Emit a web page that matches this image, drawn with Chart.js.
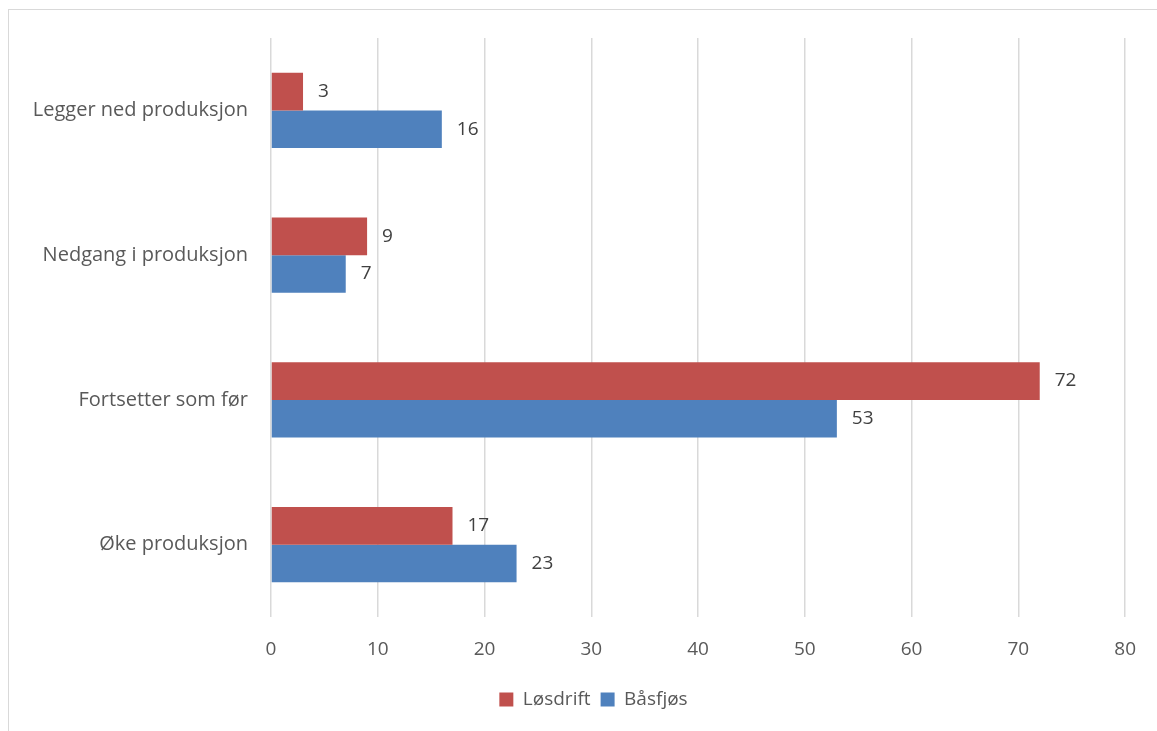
<!DOCTYPE html>
<html>
<head>
<meta charset="utf-8">
<script src="https://cdn.jsdelivr.net/npm/chart.js@4"></script>
<style>
  body { margin: 0; background: #fff; }
  #frame { position: absolute; left: 8px; top: 9px; width: 1200px; height: 800px;
           border-top: 1px solid #d9d9d9; border-left: 1px solid #d9d9d9; }
  #wrap { position: absolute; left: 0; top: 0; width: 1157px; height: 731px; }
</style>
</head>
<body>
<div id="frame"></div>
<div id="wrap"><canvas id="chart"></canvas></div>
<script>
const categories = ["Legger ned produksjon", "Nedgang i produksjon", "Fortsetter som før", "Øke produksjon"];
const losdrift = [3, 9, 72, 17];
const basfjos = [16, 7, 53, 23];

const fontFamily = "'Open Sans', sans-serif";

const valueLabels = {
  id: 'valueLabels',
  afterDatasetsDraw(chart) {
    const ctx = chart.ctx;
    ctx.save();
    ctx.font = "19px " + fontFamily;
    ctx.fillStyle = '#404040';
    ctx.textAlign = 'left';
    ctx.textBaseline = 'middle';
    chart.data.datasets.forEach((ds, i) => {
      chart.getDatasetMeta(i).data.forEach((bar, j) => {
        ctx.fillText(ds.data[j], bar.x + 15, bar.y);
      });
    });
    ctx.restore();
  }
};

// the legend in the reference sits a bit right of the canvas centre
const shiftLegend = {
  id: 'shiftLegend',
  afterLayout(chart) {
    chart.legend.left += 26;
    chart.legend.right += 26;
  }
};

new Chart(document.getElementById("chart"), {
  type: 'bar',
  data: {
    labels: categories,
    datasets: [
      { label: 'Løsdrift', data: losdrift, backgroundColor: '#C0504D' },
      { label: 'Båsfjøs', data: basfjos, backgroundColor: '#4F81BD' }
    ]
  },
  options: {
    indexAxis: 'y',
    responsive: true,
    maintainAspectRatio: false,
    animation: false,
    categoryPercentage: 0.52,
    barPercentage: 1,
    layout: { padding: { top: 38, right: 22, bottom: 12, left: 0 } },
    scales: {
      x: {
        min: 0, max: 80,
        ticks: { stepSize: 10, padding: 21, color: '#595959', font: { family: fontFamily, size: 19 } },
        grid: { color: '#d9d9d9', lineWidth: 1.5, drawTicks: false },
        border: { display: false },
        afterFit(scale) { scale.height = 63; }
      },
      y: {
        ticks: { padding: 15, color: '#595959', font: { family: fontFamily, size: 20 } },
        grid: { display: false },
        border: { display: false },
        afterFit(scale) { scale.width = 271; }
      }
    },
    plugins: {
      legend: {
        position: 'bottom',
        labels: { boxWidth: 14, boxHeight: 14, padding: 10, color: '#595959', font: { family: fontFamily, size: 19 } }
      },
      tooltip: { enabled: false }
    }
  },
  plugins: [valueLabels, shiftLegend]
});
</script>
</body>
</html>
